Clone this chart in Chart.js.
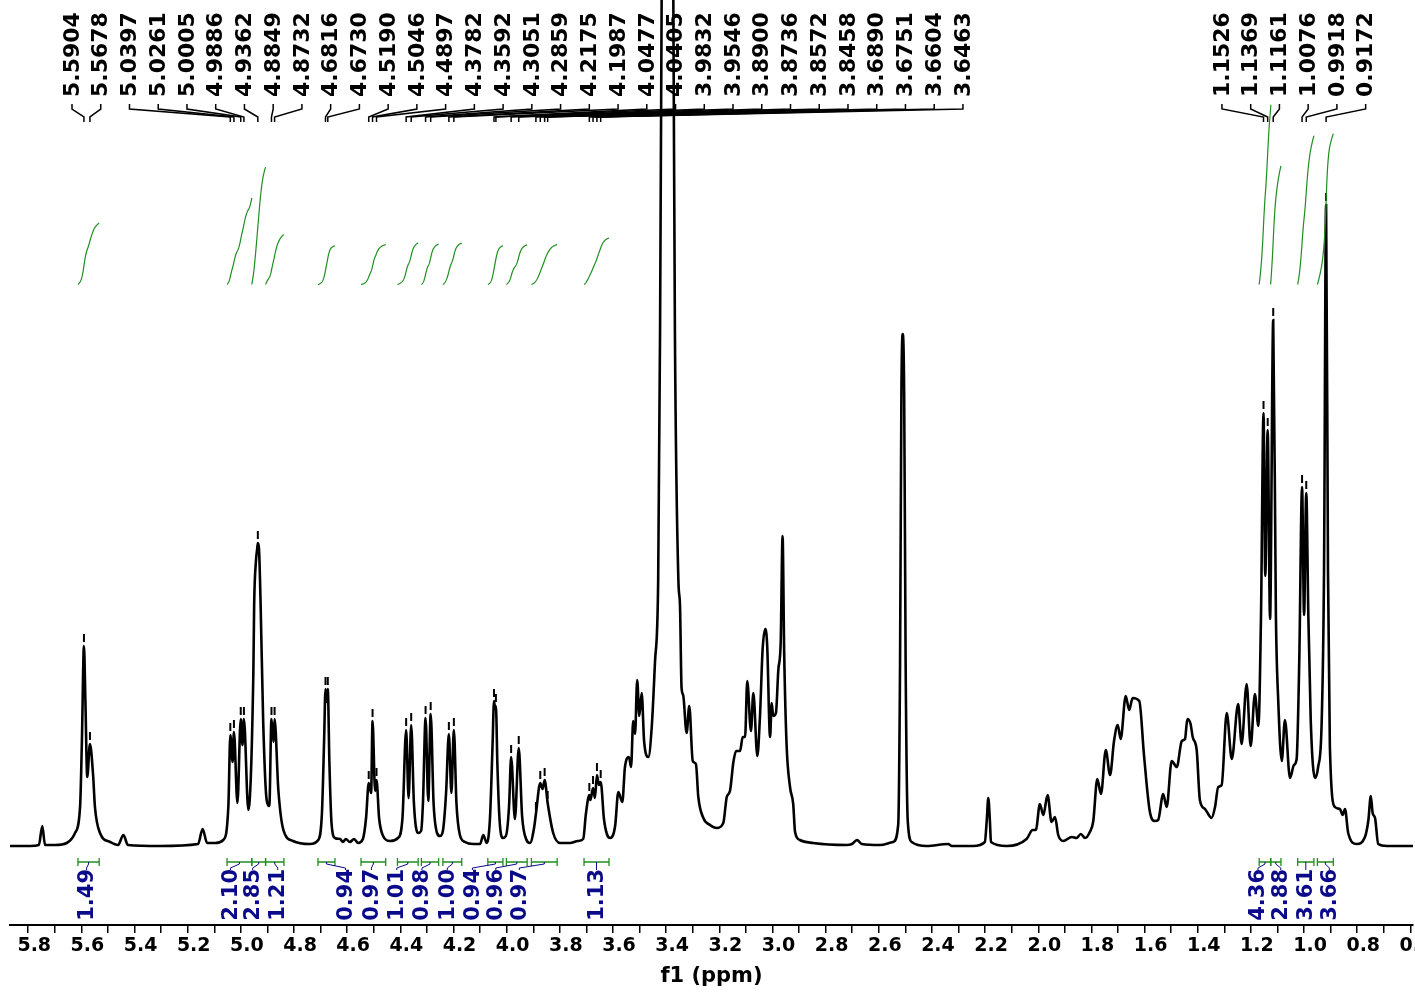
<!DOCTYPE html>
<html>
<head>
<meta charset="utf-8">
<title>1H NMR</title>
<script src="https://cdn.jsdelivr.net/npm/chart.js@4.4.1/dist/chart.umd.min.js"></script>
<style>
  html, body { margin: 0; padding: 0; background: #fff; }
  #wrap { width: 1415px; height: 992px; }
</style>
</head>
<body>
<div id="wrap"><canvas id="spectrum" width="1415" height="992"></canvas></div>
<script>
// chemical shift (ppm) and intensity of the trace, high field on the right
var shift = [
  5.869, 5.793, 5.760, 5.747, 5.737, 5.699, 5.655, 5.624, 5.605, 5.598,
  5.5904, 5.585, 5.578, 5.5678, 5.556, 5.549, 5.530, 5.492, 5.462, 5.442,
  5.425, 5.304, 5.161, 5.144, 5.127, 5.097, 5.066, 5.047, 5.0397, 5.031,
  5.0261, 5.013, 5.0005, 4.994, 4.9886, 4.972, 4.953, 4.950, 4.943, 4.939,
  4.9362, 4.932, 4.926, 4.916, 4.903, 4.893, 4.8849, 4.877, 4.8732, 4.859,
  4.840, 4.804, 4.740, 4.709, 4.695, 4.687, 4.6816, 4.678, 4.6730, 4.667,
  4.659, 4.646, 4.627, 4.616, 4.605, 4.590, 4.574, 4.559, 4.541, 4.529,
  4.5190, 4.510, 4.5046, 4.495, 4.4897, 4.480, 4.465, 4.439, 4.409, 4.392,
  4.3782, 4.369, 4.3592, 4.349, 4.334, 4.322, 4.315, 4.3051, 4.295, 4.2859,
  4.275, 4.262, 4.251, 4.240, 4.228, 4.2175, 4.208, 4.1987, 4.189, 4.176,
  4.157, 4.126, 4.100, 4.088, 4.075, 4.063, 4.053, 4.0477, 4.044, 4.0405,
  4.035, 4.027, 4.015, 4.003, 3.991, 3.9832, 3.969, 3.9546, 3.942, 3.927,
  3.912, 3.897, 3.8900, 3.8736, 3.865, 3.8572, 3.8458, 3.825, 3.799, 3.762,
  3.732, 3.712, 3.702, 3.6890, 3.685, 3.6751, 3.668, 3.6604, 3.653, 3.6463,
  3.634, 3.623, 3.611, 3.592, 3.580, 3.565, 3.555, 3.540, 3.532, 3.524,
  3.517, 3.509, 3.501, 3.492, 3.483, 3.467, 3.454, 3.442, 3.430, 3.423,
  3.417, 3.408, 3.395, 3.382, 3.373, 3.367, 3.354, 3.348, 3.342, 3.336,
  3.323, 3.313, 3.300, 3.288, 3.279, 3.260, 3.235, 3.210, 3.185, 3.172,
  3.160, 3.147, 3.137, 3.122, 3.112, 3.103, 3.095, 3.081, 3.072, 3.057,
  3.047, 3.037, 3.027, 3.020, 3.009, 3.003, 2.997, 2.987, 2.978, 2.969,
  2.962, 2.956, 2.947, 2.934, 2.922, 2.915, 2.897, 2.847, 2.721, 2.701,
  2.682, 2.664, 2.596, 2.546, 2.527, 2.520, 2.515, 2.510, 2.5045, 2.499,
  2.491, 2.476, 2.420, 2.339, 2.325, 2.245, 2.201, 2.194, 2.188, 2.182,
  2.178, 2.119, 2.044, 2.021, 2.009, 1.994, 1.981, 1.965, 1.950, 1.937,
  1.925, 1.906, 1.874, 1.856, 1.840, 1.824, 1.806, 1.793, 1.778, 1.764,
  1.746, 1.730, 1.715, 1.701, 1.690, 1.671, 1.658, 1.645, 1.620, 1.602,
  1.580, 1.561, 1.549, 1.530, 1.517, 1.498, 1.479, 1.460, 1.448, 1.439,
  1.427, 1.419, 1.404, 1.392, 1.373, 1.348, 1.335, 1.323, 1.310, 1.291,
  1.272, 1.248, 1.235, 1.216, 1.201, 1.185, 1.172, 1.162, 1.1526, 1.146,
  1.1369, 1.128, 1.1161, 1.106, 1.097, 1.084, 1.072, 1.053, 1.038, 1.028,
  1.018, 1.0076, 1.000, 0.9918, 0.984, 0.975, 0.959, 0.947, 0.934, 0.925,
  0.9172, 0.910, 0.903, 0.884, 0.865, 0.855, 0.846, 0.834, 0.802, 0.771,
  0.758, 0.749, 0.742, 0.733, 0.721, 0.689, 0.590
];
var intensity = [
  0, 0, 1, 20, 1, 1, 3, 13, 39, 106,
  200, 146, 69, 102, 71, 39, 13, 4, 1, 11,
  1, 0, 2, 17, 3, 3, 6, 40, 111, 84,
  114, 43, 127, 101, 127, 36, 174, 242, 286, 296,
  303, 298, 245, 124, 46, 40, 127, 104, 127, 56,
  16, 5, 2, 6, 33, 104, 157, 144, 157, 84,
  23, 8, 7, 4, 7, 4, 7, 3, 7, 28,
  63, 53, 125, 55, 66, 28, 10, 5, 8, 28,
  116, 48, 121, 43, 13, 15, 43, 128, 45, 132,
  43, 13, 10, 15, 53, 112, 53, 116, 43, 11,
  4, 2, 2, 11, 3, 27, 102, 145, 138, 140,
  82, 27, 8, 10, 40, 89, 27, 98, 30, 7,
  3, 18, 32, 63, 57, 66, 43, 13, 3, 3,
  5, 7, 32, 51, 46, 58, 48, 71, 61, 64,
  27, 12, 8, 20, 54, 44, 79, 89, 79, 125,
  112, 166, 130, 153, 105, 89, 120, 184, 266, 513,
  846, 1200, 1300, 1200, 846, 513, 266, 241, 158, 151,
  113, 140, 85, 82, 49, 28, 21, 18, 23, 49,
  55, 84, 95, 95, 109, 109, 165, 115, 153, 90,
  130, 197, 217, 201, 109, 143, 130, 133, 176, 204,
  310, 194, 102, 59, 42, 14, 6, 3, 1, 2,
  6, 2, 1, 4, 21, 183, 450, 512, 450, 183,
  25, 4, 0, 2, 0, 0, 4, 25, 48, 25,
  4, 0, 7, 16, 16, 42, 31, 51, 24, 29,
  11, 5, 9, 8, 12, 8, 14, 25, 67, 52,
  96, 71, 105, 121, 107, 150, 136, 148, 145, 90,
  34, 25, 26, 52, 39, 85, 79, 105, 107, 127,
  122, 109, 96, 46, 37, 28, 39, 59, 61, 133,
  87, 142, 102, 162, 100, 152, 120, 231, 433, 270,
  416, 227, 526, 231, 144, 85, 126, 68, 81, 87,
  187, 359, 231, 353, 231, 126, 68, 79, 122, 274,
  641, 274, 100, 39, 37, 31, 37, 13, 2, 9,
  26, 50, 33, 28, 2, 0, 0
];

// picked peaks
var peakShifts = [
  5.5904, 5.5678, 5.0397, 5.0261, 5.0005, 4.9886, 4.9362, 4.8849, 4.8732,
  4.6816, 4.6730, 4.5190, 4.5046, 4.4897, 4.3782, 4.3592, 4.3051, 4.2859,
  4.2175, 4.1987, 4.0477, 4.0405, 3.9832, 3.9546, 3.8900, 3.8736, 3.8572,
  3.8458, 3.6890, 3.6751, 3.6604, 3.6463,
  1.1526, 1.1369, 1.1161, 1.0076, 0.9918, 0.9172
];

// integral regions (ppm) and their normalised areas
var integralFrom = [5.613, 5.052, 4.959, 4.907, 4.710, 4.548, 4.411, 4.321, 4.240, 4.071, 4.001, 3.907, 3.709, 1.169, 1.126, 1.024, 0.950];
var integralTo   = [5.533, 4.959, 4.907, 4.838, 4.646, 4.455, 4.333, 4.256, 4.169, 4.014, 3.923, 3.810, 3.615, 1.125, 1.087, 0.963, 0.890];
var integralValues = [1.49, 2.10, 2.85, 1.21, 0.94, 0.97, 1.01, 0.98, 1.00, 0.94, 0.96, 0.97, 1.13, 4.36, 2.88, 3.61, 3.66];

// label layout
var PEAK_FONT = 'bold 22px "DejaVu Sans", Verdana, sans-serif';
var INTEGRAL_FONT = 'bold 21px "DejaVu Sans", Verdana, sans-serif';
var PEAK_LABEL_STEP = 28.74;
var INTEGRAL_COLOR = '#1f8f1f';
var INTEGRAL_TEXT = '#0a0a8a';
var integralBase = 561.5;   // intensity level where the integral curves start
var integralGain = 41.2;    // curve rise per unit of area
var integralLabelShift = [-2, -9, -6, 3, 19, -2, -11, -8, -5, -23, -21, -25, 0, -7, 5, 0, 4];

function valueAt(p) {
  for (var i = 0; i < shift.length - 1; i++) {
    if (p <= shift[i] && p >= shift[i + 1]) {
      var t = (shift[i] - p) / (shift[i] - shift[i + 1]);
      return intensity[i] + t * (intensity[i + 1] - intensity[i]);
    }
  }
  return 0;
}

var points = shift.map(function (p, i) { return { x: p, y: intensity[i] }; });

var annotations = {
  id: 'nmrAnnotations',
  afterDatasetsDraw: function (chart) {
    var ctx = chart.ctx;
    var area = chart.chartArea;
    var xs = chart.scales.x;
    var ys = chart.scales.y;

    ctx.save();

    // little markers above every picked peak
    ctx.strokeStyle = '#000';
    ctx.lineWidth = 2;
    peakShifts.forEach(function (p) {
      var px = xs.getPixelForValue(p);
      var top = ys.getPixelForValue(valueAt(p));
      ctx.beginPath();
      ctx.moveTo(px, top - 12);
      ctx.lineTo(px, top - 4);
      ctx.stroke();
    });

    // peak labels, spread in groups along the top
    var peakPx = peakShifts.map(function (p) { return xs.getPixelForValue(p); });
    var groups = [];
    peakPx.forEach(function (px, i) {
      if (i === 0 || px - peakPx[i - 1] > 150) groups.push([]);
      groups[groups.length - 1].push(i);
    });
    ctx.font = PEAK_FONT;
    ctx.fillStyle = '#000';
    ctx.lineWidth = 1.5;
    groups.forEach(function (g) {
      var mean = g.reduce(function (s, i) { return s + peakPx[i]; }, 0) / g.length;
      var start = mean - (g.length - 1) / 2 * PEAK_LABEL_STEP + 4;
      start = Math.max(start, area.left + 62);
      g.forEach(function (i, k) {
        var lx = start + k * PEAK_LABEL_STEP;
        ctx.save();
        ctx.translate(lx, 97);
        ctx.rotate(-Math.PI / 2);
        ctx.textAlign = 'left';
        ctx.textBaseline = 'middle';
        ctx.fillText(peakShifts[i].toFixed(4), 0, 1);
        ctx.restore();
        ctx.beginPath();
        ctx.moveTo(lx, 104);
        ctx.lineTo(lx, 109);
        ctx.lineTo(peakPx[i], 117);
        ctx.lineTo(peakPx[i], 122);
        ctx.stroke();
      });
    });

    // integral curves
    ctx.strokeStyle = INTEGRAL_COLOR;
    ctx.lineWidth = 1.2;
    integralValues.forEach(function (val, j) {
      var a = integralFrom[j], b = integralTo[j];
      var n = 80, step = (a - b) / n;
      var acc = [0], total = 0;
      for (var k = 1; k <= n; k++) {
        var p0 = a - (k - 1) * step, p1 = a - k * step;
        total += (valueAt(p0) + valueAt(p1)) / 2;
        acc.push(total);
      }
      ctx.beginPath();
      for (var k = 0; k <= n; k++) {
        var px = xs.getPixelForValue(a - k * step);
        var py = ys.getPixelForValue(integralBase + val * integralGain * acc[k] / total);
        if (k === 0) ctx.moveTo(px, py); else ctx.lineTo(px, py);
      }
      ctx.stroke();
    });

    // integral brackets and their values under the baseline
    var by = 862;
    integralValues.forEach(function (val, j) {
      var x1 = xs.getPixelForValue(integralFrom[j]);
      var x2 = xs.getPixelForValue(integralTo[j]);
      var cx = (x1 + x2) / 2;
      var lx = cx + integralLabelShift[j];
      ctx.strokeStyle = INTEGRAL_COLOR;
      ctx.lineWidth = 1.3;
      ctx.beginPath();
      ctx.moveTo(x1, by - 4); ctx.lineTo(x1, by + 4);
      ctx.moveTo(x2, by - 4); ctx.lineTo(x2, by + 4);
      ctx.moveTo(x1, by); ctx.lineTo(x2, by);
      ctx.stroke();

      ctx.strokeStyle = INTEGRAL_TEXT;
      ctx.lineWidth = 1;
      ctx.beginPath();
      ctx.moveTo(cx, by);
      ctx.lineTo(cx, by + 2);
      ctx.lineTo(lx, by + 6);
      ctx.lineTo(lx, by + 8);
      ctx.stroke();

      ctx.save();
      ctx.translate(lx, by + 7);
      ctx.rotate(-Math.PI / 2);
      ctx.font = INTEGRAL_FONT;
      ctx.fillStyle = INTEGRAL_TEXT;
      ctx.textAlign = 'right';
      ctx.textBaseline = 'middle';
      ctx.fillText(val.toFixed(2), 0, 1);
      ctx.restore();
    });

    ctx.restore();
  }
};

var axisFont = { family: '"DejaVu Sans", Verdana, sans-serif', weight: 'bold', size: 19 };

var chart = new Chart(document.getElementById('spectrum'), {
  type: 'line',
  data: {
    datasets: [{
      data: points,
      borderColor: '#000',
      borderWidth: 2.6,
      pointRadius: 0,
      cubicInterpolationMode: 'monotone',
      fill: false
    }]
  },
  options: {
    responsive: false,
    animation: false,
    parsing: false,
    layout: { padding: { left: 10, right: 2, top: 0, bottom: 0 } },
    plugins: { legend: { display: false }, tooltip: { enabled: false } },
    scales: {
      x: {
        type: 'linear',
        reverse: true,
        min: 0.5902,
        max: 5.8686,
        grid: { drawOnChartArea: false, drawTicks: true, tickLength: 8, color: '#000', lineWidth: 1.5 },
        border: { display: true, color: '#000', width: 2 },
        ticks: {
          stepSize: 0.1,
          includeBounds: false,
          autoSkip: false,
          maxRotation: 0,
          padding: 2,
          labelOffset: 6,
          color: '#000',
          font: axisFont,
          callback: function (v) {
            return Math.round(v * 10) % 2 === 0 ? v.toFixed(1) : '';
          }
        },
        title: {
          display: true,
          text: 'f1 (ppm)',
          color: '#000',
          font: { family: axisFont.family, weight: 'bold', size: 21 },
          padding: { top: 0, bottom: 3 }
        },
        afterFit: function (scale) {
          // keep the plot edge fixed, let the end labels run off the canvas
          scale.height = 67;
          scale.paddingLeft = 0;
          scale.paddingRight = 0;
        }
      },
      y: { display: false, min: -79, max: 846 }
    }
  },
  plugins: [annotations]
});
</script>
</body>
</html>
